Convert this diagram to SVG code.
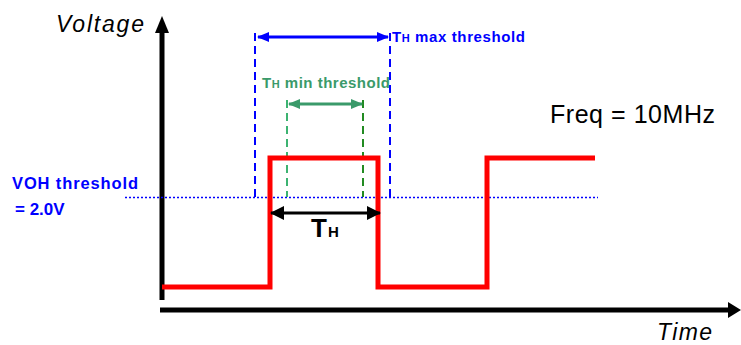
<svg xmlns="http://www.w3.org/2000/svg" width="741" height="345" viewBox="0 0 741 345">
<style>
.ax{stroke:#000;stroke-width:5;fill:none}
.wave{stroke:#ff0000;stroke-width:5;fill:none;stroke-linejoin:miter}
.bdash{stroke:#0000ff;stroke-width:2;stroke-dasharray:8,5;fill:none}
.gdash{stroke-width:2;stroke-dasharray:8,5;fill:none}
.dot{stroke:#0000ff;stroke-width:1.6;stroke-dasharray:2,2;fill:none}
.lbl{font-family:"Liberation Sans",Arial,sans-serif}
.bt{font-family:"Liberation Sans",Arial,sans-serif;font-weight:bold}
</style>
<defs>
<marker id="bh" viewBox="0 0 12 10" refX="11" refY="5" markerWidth="12" markerHeight="10" markerUnits="userSpaceOnUse" orient="auto-start-reverse"><path d="M0,0 L12,5 L0,10 Z" fill="#0000ff"/></marker>
<marker id="gh" viewBox="0 0 12 10" refX="11" refY="5" markerWidth="12" markerHeight="10" markerUnits="userSpaceOnUse" orient="auto-start-reverse"><path d="M0,0 L12,5 L0,10 Z" fill="#3a9a6a"/></marker>
<marker id="kh" viewBox="0 0 14 14" refX="13" refY="7" markerWidth="14" markerHeight="14" markerUnits="userSpaceOnUse" orient="auto-start-reverse"><path d="M0,0 L14,7 L0,14 Z" fill="#000"/></marker>
</defs>
<g id="axes">
<line class="ax" x1="162" y1="300" x2="162" y2="32"/>
<path d="M155,33 L162,16 L169,33 Z" fill="#000"/>
<line class="ax" x1="160" y1="310" x2="730" y2="310"/>
<path d="M728,302 L741,310 L728,318 Z" fill="#000"/>
<text class="lbl" x="56" y="32" font-size="23" font-style="italic" textLength="88">Voltage</text>
<text class="lbl" x="657" y="340" font-size="23" font-style="italic" textLength="55">Time</text>
</g>
<g id="guides">
<line class="dot" x1="125" y1="197.5" x2="598" y2="197.5"/>
<line class="bdash" x1="255" y1="33" x2="255" y2="197"/>
<line class="bdash" x1="390" y1="33" x2="390" y2="197"/>
<line class="gdash" stroke="#3cb371" x1="287" y1="100" x2="287" y2="197"/>
<line class="gdash" stroke="#228b22" x1="363" y1="100" x2="363" y2="197"/>
</g>
<g id="waveform">
<polyline class="wave" points="162,287 270,287 270,158 378,158 378,287 487,287 487,158 595,158"/>
</g>
<g id="connectors">
<line x1="258" y1="37" x2="388" y2="37" stroke="#0000ff" stroke-width="3" marker-start="url(#bh)" marker-end="url(#bh)"/>
<line x1="289" y1="104" x2="362" y2="104" stroke="#3a9a6a" stroke-width="3" marker-start="url(#gh)" marker-end="url(#gh)"/>
<line x1="271" y1="213" x2="380" y2="213" stroke="#000" stroke-width="3" marker-start="url(#kh)" marker-end="url(#kh)"/>
</g>
<g id="labels">
<text class="bt" x="392" y="42" font-size="15" fill="#0000ff" textLength="133">T<tspan font-size="11">H</tspan> max threshold</text>
<text class="bt" x="262" y="88" font-size="15" fill="#3a9a6a" textLength="128">T<tspan font-size="11">H</tspan> min threshold</text>
<text class="bt" x="311" y="237" font-size="26" fill="#000">T<tspan font-size="15" dx="1">H</tspan></text>
<text class="bt" x="12" y="189" font-size="16.5" fill="#0000ff" textLength="126">VOH threshold</text>
<text class="bt" x="15" y="215" font-size="17" fill="#0000ff">= 2.0V</text>
<text class="lbl" x="550" y="123" font-size="25" fill="#000" textLength="165">Freq = 10MHz</text>
</g>
</svg>
